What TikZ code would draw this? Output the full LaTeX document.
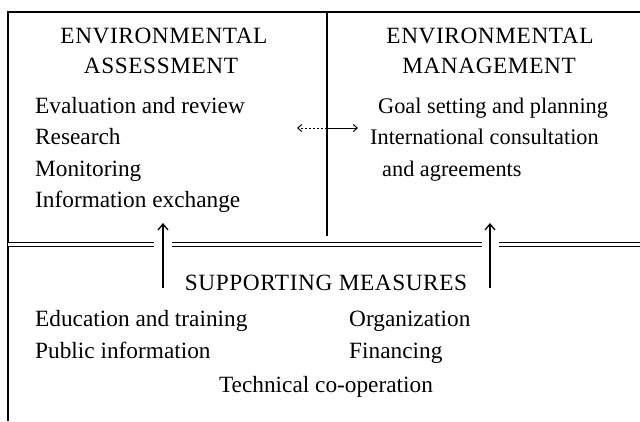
\documentclass[tikz,border=0pt]{standalone}
\usepackage{fontspec}
\setmainfont{Liberation Serif}
\newfontfamily\spacedfont[LetterSpace=2.5]{Liberation Serif}
\usetikzlibrary{arrows.meta}
\begin{document}
\begin{tikzpicture}[x=1pt,y=-1pt,
  rule/.style={line width=1.5pt},
  dblrule/.style={double, double distance=3pt, line width=1.2pt},
  txt/.style={inner sep=0pt,font=\fontsize{23.3}{28}\selectfont},
  head/.style={inner sep=0pt,anchor=base,font=\spacedfont\fontsize{23.3}{28}\selectfont},
  line/.style={txt,anchor=base},
  item/.style={txt,anchor=base west},
  ritem/.style={item,font=\fontsize{22.3}{27}\selectfont},
  uptip/.style={line width=1.3pt,-{Straight Barb[length=6pt,width=10pt,line width=1.3pt]}},
  smalltip/.style={line width=1pt,-{Straight Barb[length=4pt,width=7pt,line width=1pt]}},
]
\useasboundingbox[fill=white] (0,0) rectangle (640,421);

% frame
\coordinate (tl) at (8,12);
\coordinate (tr) at (640,12);
\coordinate (bl) at (8,421);
\coordinate (mt) at (327,12);
\coordinate (mb) at (327,236);
\draw[rule] (tr) -- (tl) -- (bl);
\draw[rule] (mt) -- (mb);

% double rule with gaps
\coordinate (d0) at (8,244.5);
\coordinate (d1) at (154,244.5);
\coordinate (d2) at (172,244.5);
\coordinate (d3) at (482,244.5);
\coordinate (d4) at (499,244.5);
\coordinate (d5) at (640,244.5);
\draw[dblrule] (d0) -- (d1);
\draw[dblrule] (d2) -- (d3);
\draw[dblrule] (d4) -- (d5);

% left column
\node[head] (ea1) at (164,43) {ENVIRONMENTAL};
\node[head] (ea2) at (161,73) {ASSESSMENT};
\node[item] (ea3) at (35,113) {Evaluation and review};
\node[item] (ea4) at (35,144) {Research};
\node[item] (ea5) at (35,176) {Monitoring};
\node[item] (ea6) at (35,207) {Information exchange};

% right column
\node[head] (em1) at (490,43) {ENVIRONMENTAL};
\node[head] (em2) at (489,73) {MANAGEMENT};
\node[ritem] (em3) at (378,113) {Goal setting and planning};
\node[ritem] (em4) at (370,144) {International consultation};
\node[ritem] (em5) at (382,176) {and agreements};

% two-way arrow between columns
\coordinate (am) at (327,128);
\coordinate (al) at (297,128);
\coordinate (ar) at (358,128);
\draw[smalltip,dashed,dash pattern=on 2pt off 2pt] (am) -- (al);
\draw[smalltip] (am) -- (ar);

% supporting measures
\node[head] (sm) at (326,290) {SUPPORTING MEASURES};
\node[item] (s1) at (35,326) {Education and training};
\node[item] (s2) at (35,358) {Public information};
\node[item] (s3) at (349,326) {Organization};
\node[item] (s4) at (349,358) {Financing};
\node[line] (s5) at (326,392) {Technical co-operation};

% upward arrows
\coordinate (u1b) at (163,288);
\coordinate (u1t) at (163,223);
\coordinate (u2b) at (490,288);
\coordinate (u2t) at (490,223);
\draw[uptip] (u1b) -- (u1t);
\draw[uptip] (u2b) -- (u2t);
\end{tikzpicture}
\end{document}
